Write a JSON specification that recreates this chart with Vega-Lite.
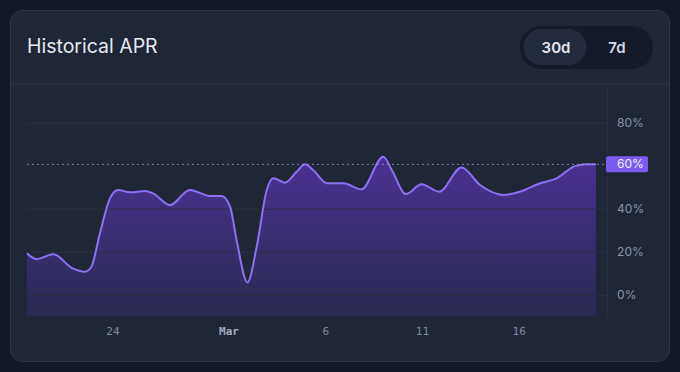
{
  "$schema": "https://vega.github.io/schema/vega-lite/v6.json",
  "width": 659,
  "height": 351,
  "autosize": {"type": "none"},
  "padding": {"left": 10, "top": 10, "right": 11, "bottom": 11},
  "background": "#131829",
  "config": {
    "view": {"fill": "#1f2737", "stroke": "#2c3446", "strokeWidth": 1, "cornerRadius": 12},
    "font": "Inter"
  },
  "datasets": {
    "apr": [
      {"t": "2024-02-19T14:00", "v": 19.5},
      {"t": "2024-02-20T02:00", "v": 16.9},
      {"t": "2024-02-20T23:00", "v": 19.1},
      {"t": "2024-02-21T21:30", "v": 12.8},
      {"t": "2024-02-22T14:00", "v": 11.0},
      {"t": "2024-02-22T22:00", "v": 13.3},
      {"t": "2024-02-23T08:30", "v": 28.8},
      {"t": "2024-02-23T21:00", "v": 45.1},
      {"t": "2024-02-24T07:00", "v": 49.0},
      {"t": "2024-02-24T22:00", "v": 47.9},
      {"t": "2024-02-25T16:30", "v": 48.5},
      {"t": "2024-02-26T02:30", "v": 47.4},
      {"t": "2024-02-26T23:30", "v": 42.0},
      {"t": "2024-02-28T00:00", "v": 49.0},
      {"t": "2024-02-29T01:00", "v": 46.2},
      {"t": "2024-02-29T15:30", "v": 46.2},
      {"t": "2024-03-01T02:00", "v": 41.2},
      {"t": "2024-03-01T10:00", "v": 25.7},
      {"t": "2024-03-01T23:30", "v": 6.0},
      {"t": "2024-03-02T11:00", "v": 22.6},
      {"t": "2024-03-02T23:30", "v": 49.0},
      {"t": "2024-03-03T07:30", "v": 54.4},
      {"t": "2024-03-03T22:00", "v": 52.4},
      {"t": "2024-03-04T12:30", "v": 57.5},
      {"t": "2024-03-04T23:00", "v": 60.9},
      {"t": "2024-03-05T09:00", "v": 58.3},
      {"t": "2024-03-06T02:00", "v": 52.1},
      {"t": "2024-03-06T22:30", "v": 52.1},
      {"t": "2024-03-07T21:00", "v": 49.3},
      {"t": "2024-03-09T00:00", "v": 64.5},
      {"t": "2024-03-09T10:30", "v": 58.3},
      {"t": "2024-03-10T04:00", "v": 47.1},
      {"t": "2024-03-10T23:30", "v": 51.6},
      {"t": "2024-03-11T21:30", "v": 48.2},
      {"t": "2024-03-13T01:00", "v": 59.5},
      {"t": "2024-03-14T00:00", "v": 51.3},
      {"t": "2024-03-15T05:00", "v": 46.7},
      {"t": "2024-03-16T01:30", "v": 48.2},
      {"t": "2024-03-17T02:30", "v": 52.1},
      {"t": "2024-03-17T23:00", "v": 54.4},
      {"t": "2024-03-18T21:45", "v": 60.1},
      {"t": "2024-03-19T12:15", "v": 60.9},
      {"t": "2024-03-19T23:45", "v": 60.9}
    ],
    "grid": [
      {"v": 0, "label": "0%"},
      {"v": 20, "label": "20%"},
      {"v": 40, "label": "40%"},
      {"v": 80, "label": "80%"}
    ],
    "current": [{"v": 60.9, "label": "60%"}],
    "header": [{"title": "Historical APR"}],
    "toggle": [{"label": "30d", "selected": true}, {"label": "7d", "selected": false}]
  },
  "layer": [
    {
      "data": {"name": "apr"},
      "mark": {
        "type": "area",
        "interpolate": "monotone",
        "color": {
          "gradient": "linear",
          "x1": 0, "y1": 0, "x2": 0, "y2": 1,
          "stops": [
            {"offset": 0, "color": "#4b3193"},
            {"offset": 1, "color": "#292a52"}
          ]
        }
      },
      "encoding": {
        "x": {
          "field": "t",
          "type": "temporal",
          "scale": {
            "domain": [
              {"year": 2024, "month": 2, "date": 18, "hours": 17, "minutes": 0},
              {"year": 2024, "month": 3, "date": 23, "hours": 18, "minutes": 22}
            ],
            "nice": false
          },
          "axis": {
            "orient": "bottom",
            "offset": -29.5,
            "domain": false,
            "ticks": false,
            "grid": false,
            "title": null,
            "labelPadding": 0,
            "labelBaseline": "middle",
            "labelFont": "DejaVu Sans Mono",
            "labelFontSize": 11,
            "labelOverlap": false,
            "labelFlush": false,
            "labelColor": {"condition": {"test": "date(datum.value) == 1", "value": "#a3abbc"}, "value": "#7f889c"},
            "labelFontWeight": {"condition": {"test": "date(datum.value) == 1", "value": "bold"}, "value": "normal"},
            "labelExpr": "date(datum.value) == 1 ? timeFormat(datum.value, '%b') : timeFormat(datum.value, '%-d')",
            "values": [
              {"year": 2024, "month": 2, "date": 24},
              {"year": 2024, "month": 3, "date": 1},
              {"year": 2024, "month": 3, "date": 6},
              {"year": 2024, "month": 3, "date": 11},
              {"year": 2024, "month": 3, "date": 16}
            ]
          }
        },
        "y": {
          "field": "v",
          "type": "quantitative",
          "scale": {"domain": [-30.56, 132.7], "nice": false, "zero": false},
          "axis": null
        },
        "y2": {"datum": -9.6}
      }
    },
    {
      "data": {"name": "grid"},
      "mark": {"type": "rule", "color": "#293143", "strokeWidth": 1},
      "encoding": {
        "x": {"datum": {"year": 2024, "month": 2, "date": 19, "hours": 14, "minutes": 0}, "type": "temporal"},
        "x2": {"datum": {"year": 2024, "month": 3, "date": 20, "hours": 14, "minutes": 20}},
        "y": {"field": "v", "type": "quantitative"}
      }
    },
    {
      "data": {"name": "header"},
      "mark": {"type": "rule", "color": "#2b3345", "strokeWidth": 1},
      "encoding": {
        "x": {"datum": {"year": 2024, "month": 3, "date": 20, "hours": 14, "minutes": 20}, "type": "temporal"},
        "y": {"datum": 97.8, "type": "quantitative"},
        "y2": {"datum": -10.4}
      }
    },
    {
      "data": {"name": "header"},
      "mark": {"type": "rule", "color": "#2b3345", "strokeWidth": 1},
      "encoding": {
        "y": {"datum": 98.3, "type": "quantitative"}
      }
    },
    {
      "data": {"name": "apr"},
      "mark": {"type": "line", "interpolate": "monotone", "color": "#8d6ff3", "strokeWidth": 2},
      "encoding": {
        "x": {"field": "t", "type": "temporal"},
        "y": {"field": "v", "type": "quantitative"}
      }
    },
    {
      "data": {"name": "current"},
      "mark": {"type": "rule", "color": "#9b9cc0", "strokeWidth": 1, "strokeDash": [2, 3], "opacity": 0.8},
      "encoding": {
        "x": {"datum": {"year": 2024, "month": 2, "date": 19, "hours": 14, "minutes": 0}, "type": "temporal"},
        "x2": {"datum": {"year": 2024, "month": 3, "date": 20, "hours": 12, "minutes": 13}},
        "y": {"field": "v", "type": "quantitative"}
      }
    },
    {
      "data": {"name": "current"},
      "mark": {"type": "rect", "color": "#7c5cf0", "width": 42, "height": 16, "cornerRadius": 2},
      "encoding": {
        "x": {"datum": {"year": 2024, "month": 3, "date": 21, "hours": 14, "minutes": 15}, "type": "temporal"},
        "y": {"field": "v", "type": "quantitative"}
      }
    },
    {
      "data": {"name": "current"},
      "mark": {"type": "text", "align": "left", "baseline": "middle", "fontSize": 12, "color": "#f2eeff"},
      "encoding": {
        "x": {"datum": {"year": 2024, "month": 3, "date": 21, "hours": 2, "minutes": 0}, "type": "temporal"},
        "y": {"field": "v", "type": "quantitative"},
        "text": {"field": "label"}
      }
    },
    {
      "data": {"name": "grid"},
      "mark": {"type": "text", "align": "left", "baseline": "middle", "fontSize": 12, "color": "#8b93a7"},
      "encoding": {
        "x": {"datum": {"year": 2024, "month": 3, "date": 21, "hours": 2, "minutes": 0}, "type": "temporal"},
        "y": {"field": "v", "type": "quantitative"},
        "text": {"field": "label"}
      }
    },
    {
      "data": {"name": "header"},
      "mark": {"type": "text", "align": "left", "baseline": "middle", "fontSize": 19.5, "color": "#e6e9ef"},
      "encoding": {
        "x": {"datum": {"year": 2024, "month": 2, "date": 19, "hours": 14, "minutes": 0}, "type": "temporal"},
        "y": {"datum": 115.7, "type": "quantitative"},
        "text": {"field": "title"}
      }
    },
    {
      "data": {"name": "header"},
      "mark": {"type": "rect", "color": "#141a2a", "width": 133, "height": 43, "cornerRadius": 21},
      "encoding": {
        "x": {"datum": {"year": 2024, "month": 3, "date": 19, "hours": 12, "minutes": 1}, "type": "temporal"},
        "y": {"datum": 115.26, "type": "quantitative"}
      }
    },
    {
      "data": {"name": "header"},
      "mark": {"type": "rect", "color": "#222a3c", "width": 63, "height": 36, "cornerRadius": 18},
      "encoding": {
        "x": {"datum": {"year": 2024, "month": 3, "date": 17, "hours": 20, "minutes": 57}, "type": "temporal"},
        "y": {"datum": 115.5, "type": "quantitative"}
      }
    },
    {
      "data": {"name": "toggle"},
      "transform": [{"filter": "datum.selected"}],
      "mark": {"type": "text", "align": "center", "baseline": "middle", "fontSize": 15, "fontWeight": 600, "color": "#e3e7ef"},
      "encoding": {
        "x": {"datum": {"year": 2024, "month": 3, "date": 17, "hours": 22, "minutes": 12}, "type": "temporal"},
        "y": {"datum": 114.8, "type": "quantitative"},
        "text": {"field": "label"}
      }
    },
    {
      "data": {"name": "toggle"},
      "transform": [{"filter": "!datum.selected"}],
      "mark": {"type": "text", "align": "center", "baseline": "middle", "fontSize": 15, "fontWeight": 600, "color": "#d3d8e2"},
      "encoding": {
        "x": {"datum": {"year": 2024, "month": 3, "date": 21, "hours": 1, "minutes": 52}, "type": "temporal"},
        "y": {"datum": 114.8, "type": "quantitative"},
        "text": {"field": "label"}
      }
    }
  ]
}
